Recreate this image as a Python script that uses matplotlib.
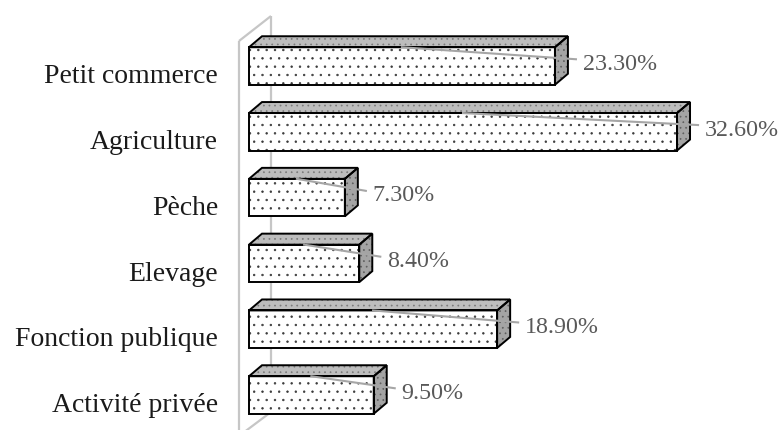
import matplotlib
matplotlib.use("Agg")
import matplotlib.pyplot as plt
from matplotlib.patches import Polygon
from matplotlib.lines import Line2D
from matplotlib.transforms import IdentityTransform
import numpy as np

# ---- data ----
categories = ["Petit commerce", "Agriculture", "Pèche", "Elevage",
              "Fonction publique", "Activité privée"]
values = [23.3, 32.6, 7.3, 8.4, 18.9, 9.5]
value_labels = ["23.30%", "32.60%", "7.30%", "8.40%", "18.90%", "9.50%"]

# ---- layout ----
W, H, DPI = 778, 431, 100
X0_PX = 249          # pixel position of value 0
PX_PER_UNIT = 13.13  # pixels per percent
ROW0 = 67            # pixel (from top) of first row centre
ROW_STEP = 65.8
BAR_H = 0.57
DX, DY = 13, 11      # 3D depth offset in pixels

plt.rcParams["font.family"] = ["Liberation Serif", "DejaVu Serif"]
plt.rcParams["hatch.linewidth"] = 0.5

fig = plt.figure(figsize=(W / DPI, H / DPI), dpi=DPI)
ax = fig.add_axes([0, 0, 1, 1])
ax.axis("off")
ax.set_xlim(-X0_PX / PX_PER_UNIT, (W - X0_PX) / PX_PER_UNIT)
ax.set_ylim((H - ROW0) / ROW_STEP, -ROW0 / ROW_STEP)

ID = IdentityTransform()
T = ax.transData.transform

# ---- back wall (light grey frame) ----
wall_col = "#c6c6c6"
org = T((0, 0))
top_px = H - 42  # front wall top (display coords)
fx = org[0] - 10
bx = fx + 32
wall_pts = [
    ([fx, fx], [-5, top_px]),
    ([fx, bx], [top_px, top_px + 25]),
    ([bx, bx], [top_px + 25, 18]),
    ([bx, fx], [18, -6]),
]
for xs, ys in wall_pts:
    ax.add_line(Line2D(xs, ys, color=wall_col, lw=1.6, transform=ID,
                       clip_on=False, solid_capstyle="butt"))

ypos = np.arange(len(categories))

# front faces (hatched with dots)
ax.barh(ypos, values, height=BAR_H, left=0, color="white",
        edgecolor="#3a3a3a", hatch="..", linewidth=0, zorder=3)
ax.barh(ypos, values, height=BAR_H, left=0, color="none",
        edgecolor="black", linewidth=1.4, zorder=4)

for i, (y, v) in enumerate(zip(ypos, values)):
    tl = T((0, y - BAR_H / 2))
    tr = T((v, y - BAR_H / 2))
    br = T((v, y + BAR_H / 2))
    d = np.array([DX, DY])
    top = [tl, tr, tr + d, tl + d]
    side = [tr, tr + d, br + d, br]
    # top face
    ax.add_patch(Polygon(top, closed=True, facecolor="#bdbdbd",
                         edgecolor="#7a7a7a", hatch="...", lw=0,
                         transform=ID, zorder=3))
    ax.add_patch(Polygon(top, closed=True, facecolor="none",
                         edgecolor="black", lw=1.4, joinstyle="miter",
                         transform=ID, zorder=4))
    # side face
    ax.add_patch(Polygon(side, closed=True, facecolor="#a4a4a4",
                         edgecolor="#5e5e5e", hatch="...", lw=0,
                         transform=ID, zorder=3))
    ax.add_patch(Polygon(side, closed=True, facecolor="none",
                         edgecolor="black", lw=1.4, joinstyle="miter",
                         transform=ID, zorder=4))

    # value label and leader line
    lab_x = tr[0] + DX + 15
    lab_base = tl[1] - 21.5
    ax.text(lab_x, lab_base, value_labels[i], transform=ID,
            fontsize=17.3, color="#595959", ha="left", va="baseline",
            zorder=6)
    mid = T((v / 2, y - BAR_H / 2))
    ax.add_line(Line2D([mid[0], lab_x - 7], [mid[1], tl[1] - 12],
                       color="#a6a6a6", lw=1.5, transform=ID, zorder=5))

    # category label
    ax.text(fx - 21, tl[1] - 35, categories[i], transform=ID,
            fontsize=20, color="#1a1a1a", ha="right", va="baseline")

fig.savefig("out.png", dpi=DPI)
